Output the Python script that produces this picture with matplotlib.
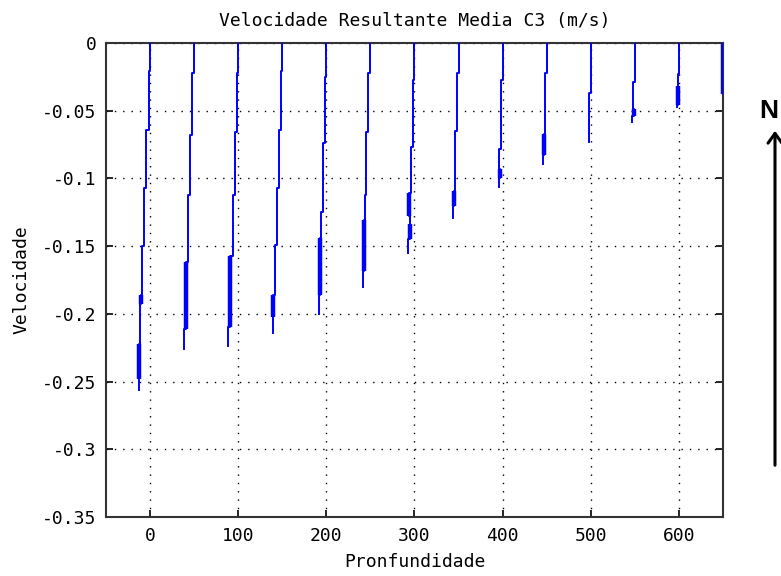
import matplotlib
matplotlib.use("Agg")
import matplotlib.pyplot as plt

# estacoes (eixo x) e perfis: (y_topo, y_base, desvio_x, espesso)
estacoes = [0, 50, 100, 150, 200, 250, 300, 350, 400, 450, 500, 550, 600, 650]

perfil_0 = [(0, -0.021, 0, 0), (-0.021, -0.064, -1.1, 0), (-0.064, -0.107, -4.5, 0),
            (-0.107, -0.150, -6.8, 0), (-0.150, -0.186, -9.1, 0), (-0.186, -0.193, -10, 1),
            (-0.193, -0.222, -11, 0), (-0.222, -0.248, -12, 1), (-0.248, -0.256, -12.9, 0)]
perfil_50 = [(0, -0.022, 0, 0), (-0.022, -0.068, -2.3, 0), (-0.068, -0.112, -4.5, 0),
             (-0.112, -0.158, -6.4, 0), (-0.158, -0.162, -7.5, 0), (-0.162, -0.211, -9.5, 1),
             (-0.211, -0.226, -11.4, 0)]
perfil_100 = [(0, -0.022, 0, 0), (-0.022, -0.066, -1.9, 0), (-0.066, -0.112, -3.8, 0),
              (-0.112, -0.157, -5.7, 0), (-0.157, -0.210, -9, 1), (-0.210, -0.224, -11, 0)]
perfil_150 = [(0, -0.021, 0, 0), (-0.021, -0.064, -1.9, 0), (-0.064, -0.107, -4.2, 0),
              (-0.107, -0.149, -6.4, 0), (-0.149, -0.186, -8.7, 0), (-0.186, -0.202, -10.2, 1),
              (-0.202, -0.214, -10.6, 0)]
perfil_200 = [(0, -0.025, 0, 0), (-0.025, -0.074, -1.9, 0), (-0.074, -0.125, -4.2, 0),
              (-0.125, -0.144, -6.1, 0), (-0.144, -0.186, -7.6, 1), (-0.186, -0.200, -8.7, 0)]
perfil_250 = [(0, -0.022, 0, 0), (-0.022, -0.066, -2.3, 0), (-0.066, -0.112, -4.5, 0),
              (-0.112, -0.131, -6.4, 0), (-0.131, -0.168, -7.6, 1), (-0.168, -0.180, -8.7, 0)]
perfil_300 = [(0, -0.027, 0, 0), (-0.027, -0.077, -1.9, 0), (-0.077, -0.111, -4.5, 0),
              (-0.111, -0.128, -6.1, 1), (-0.128, -0.134, -5.3, 0), (-0.134, -0.145, -5.3, 1),
              (-0.145, -0.155, -7.2, 0)]
perfil_350 = [(0, -0.022, 0, 0), (-0.022, -0.065, -1.9, 0), (-0.065, -0.109, -4.2, 0),
              (-0.109, -0.120, -4.9, 1), (-0.120, -0.129, -6.1, 0)]
perfil_400 = [(0, -0.027, 0, 0), (-0.027, -0.078, -1.9, 0), (-0.078, -0.093, -4.2, 0),
              (-0.093, -0.100, -3, 1), (-0.100, -0.106, -4.5, 0)]
perfil_450 = [(0, -0.022, 0, 0), (-0.022, -0.067, -2.3, 0), (-0.067, -0.083, -3.4, 1),
              (-0.083, -0.089, -4.5, 0)]
perfil_500 = [(0, -0.037, 0, 0), (-0.037, -0.073, -2.3, 0)]
perfil_550 = [(0, -0.029, 0, 0), (-0.029, -0.049, -1.9, 0), (-0.049, -0.054, -1.1, 1),
              (-0.054, -0.058, -2.7, 0)]
perfil_600 = [(0, -0.023, 0, 0), (-0.023, -0.032, -1.5, 0), (-0.032, -0.046, -0.8, 1),
              (-0.046, -0.047, -2.3, 0)]
perfil_650 = [(0, -0.038, 0, 1)]

perfis = [perfil_0, perfil_50, perfil_100, perfil_150, perfil_200, perfil_250, perfil_300,
          perfil_350, perfil_400, perfil_450, perfil_500, perfil_550, perfil_600, perfil_650]

xticks = [0, 100, 200, 300, 400, 500, 600]
yticks = [0, -0.05, -0.1, -0.15, -0.2, -0.25, -0.3, -0.35]
yticklabels = ["0", "-0.05", "-0.1", "-0.15", "-0.2", "-0.25", "-0.3", "-0.35"]

plt.rcParams['font.family'] = ['DejaVu Sans Mono']
plt.rcParams['font.size'] = 13

fig = plt.figure(figsize=(7.81, 5.76), dpi=100)
ax = fig.add_axes([0.1357, 0.1024, 0.79, 0.8229])

for x0, perfil in zip(estacoes, perfis):
    xs, ys = [], []
    for (yt, yb, dx, esp) in perfil:
        xs += [x0 + dx, x0 + dx]
        ys += [yt, yb]
        if esp:
            ax.plot([x0 + dx, x0 + dx], [yt, yb], color='blue', lw=3.2,
                    solid_capstyle='butt', zorder=3)
    ax.plot(xs, ys, color='blue', lw=1.4, zorder=3)

ax.set_xlim(-50, 650)
ax.set_ylim(-0.35, 0)
ax.set_xticks(xticks)
ax.set_yticks(yticks)
ax.set_yticklabels(yticklabels)
ax.grid(True, color='black', linestyle=(0, (1, 5)), lw=1.0)
ax.tick_params(direction='in', length=5, width=1.2, top=True, right=True, pad=7)
for s in ax.spines.values():
    s.set_linewidth(1.5)
    s.set_color('#333333')

ax.set_title('Velocidade Resultante Media C3 (m/s)', fontsize=13, pad=12)
ax.set_xlabel('Pronfundidade', labelpad=6)
ax.set_ylabel('Velocidade', labelpad=8)

# seta do norte
fig.patches.append(matplotlib.patches.FancyArrowPatch(
    (775 / 781, 1 - 468 / 576), (775 / 781, 1 - 128 / 576), transform=fig.transFigure,
    arrowstyle='->,head_width=5,head_length=7', lw=2.2, color='black',
    mutation_scale=1))
fig.text(769 / 781, 1 - 111 / 576, 'N', ha='center', va='center', fontsize=19,
         fontweight='bold', family='Liberation Sans')

fig.savefig('out.png', dpi=100)
